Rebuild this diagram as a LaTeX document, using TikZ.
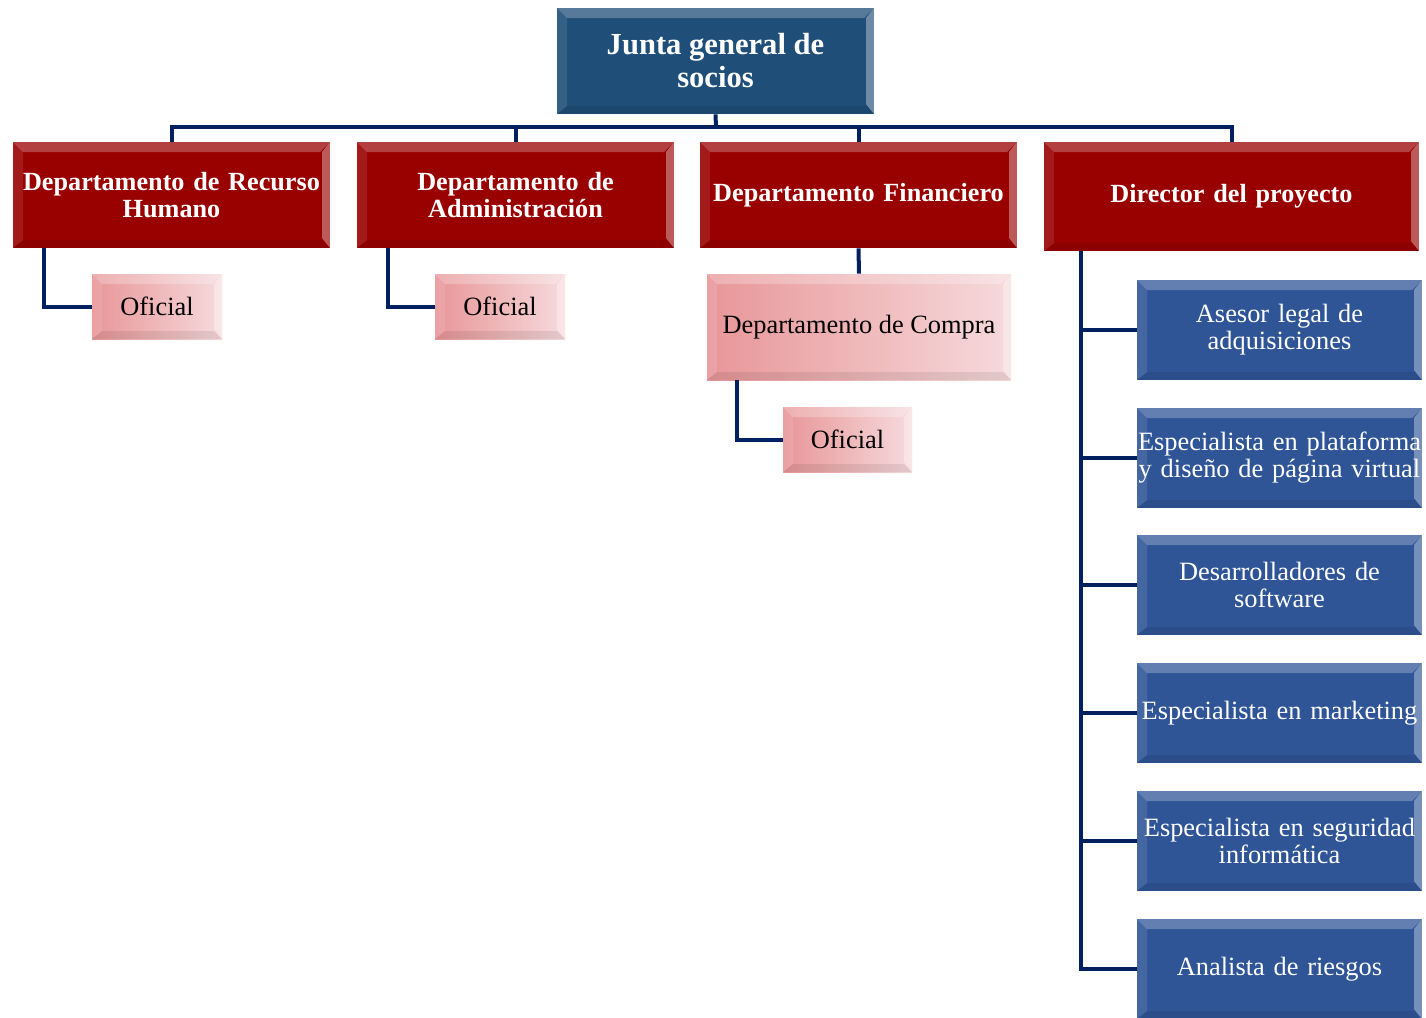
\documentclass[tikz,border=0pt]{standalone}
\usepackage{fontspec}
\setmainfont{Liberation Serif}
\usetikzlibrary{calc}

\definecolor{juntaazul}{RGB}{31,78,121}
\definecolor{deprojo}{RGB}{153,0,0}
\definecolor{cargoazul}{RGB}{47,85,151}
\definecolor{rosaA}{RGB}{232,150,152}
\definecolor{rosaB}{RGB}{246,218,220}
\definecolor{lineaazul}{RGB}{0,32,96}

\tikzset{
  bisel/.style={path picture={
    \fill[white,opacity=0.25] (path picture bounding box.north west) -- (path picture bounding box.north east)
      -- ([shift={(-5pt,-5pt)}]path picture bounding box.north east) -- ([shift={(5pt,-5pt)}]path picture bounding box.north west) -- cycle;
    \fill[white,opacity=0.35] (path picture bounding box.north east) -- (path picture bounding box.south east)
      -- ([shift={(-4pt,5pt)}]path picture bounding box.south east) -- ([shift={(-4pt,-5pt)}]path picture bounding box.north east) -- cycle;
    \fill[black,opacity=0.08] (path picture bounding box.south west) -- (path picture bounding box.south east)
      -- ([shift={(-4pt,4pt)}]path picture bounding box.south east) -- ([shift={(5pt,4pt)}]path picture bounding box.south west) -- cycle;
    \fill[white,opacity=0.1] (path picture bounding box.north west) -- (path picture bounding box.south west)
      -- ([shift={(5pt,4pt)}]path picture bounding box.south west) -- ([shift={(5pt,-5pt)}]path picture bounding box.north west) -- cycle;
  }},
  caja/.style={bisel, inner sep=0pt, align=center, text=white},
  junta/.style={caja, fill=juntaazul, minimum width=158.5pt, minimum height=53pt, font=\bfseries\fontsize{15.3}{16.5}\selectfont},
  depto/.style={caja, fill=deprojo, minimum width=158.5pt, minimum height=53pt, text width=158.5pt, font=\bfseries\fontsize{13.1}{13.5}\selectfont},
  cargo/.style={caja, fill=cargoazul, minimum width=142.5pt, minimum height=50pt, text width=142.5pt, font=\fontsize{13.2}{13.5}\selectfont},
  oficial/.style={bisel, inner sep=0pt, align=center, text=black, left color=rosaA, right color=rosaB, minimum height=32.5pt, font=\fontsize{13.2}{13.5}\selectfont},
  linea/.style={draw=lineaazul, line width=2pt}
}

\begin{document}
\begin{tikzpicture}[x=0.5pt,y=-0.5pt]
\useasboundingbox (0,0) rectangle (1426,1018);

% cabeza
\node[junta] (junta) at (715.5,61) {Junta general de\\socios};

% departamentos
\node[depto] (rrhh) at (171.5,195) {Departamento de Recurso\\Humano};
\node[depto] (admin) at (515.5,195) {Departamento de\\Administración};
\node[depto] (finan) at (858.5,195) {Departamento Financiero};
\node[depto, minimum width=187.5pt, text width=187.5pt, minimum height=54.5pt] (direc) at (1231.5,196.5) {Director del proyecto};

% oficiales
\node[oficial, minimum width=65pt] (of1) at (157,306.5) {Oficial};
\node[oficial, minimum width=65pt] (of2) at (500,306.5) {Oficial};
\node[oficial, minimum width=152pt, minimum height=53pt] (compra) at (859,327) {Departamento de Compra};
\node[oficial, minimum width=64.5pt] (of3) at (847.5,439.5) {Oficial};

% equipo del proyecto
\foreach \i/\y/\t in {1/330/{Asesor legal de\\adquisiciones},
                      2/458/{Especialista en plataforma\\y diseño de página virtual},
                      3/585/{Desarrolladores de\\software},
                      4/713/{Especialista en marketing},
                      5/841/{Especialista en seguridad\\informática},
                      6/969/{Analista de riesgos}} {
  \node[cargo] (cargo\i) at (1279.5,\y) {\t};
}

% conectores
\coordinate (barra) at (716,127);
\draw[linea] (junta.south) -- (barra);
\foreach \d in {rrhh,admin,finan,direc} {
  \draw[linea] (barra) -| (\d.north);
}
\draw[linea] ([xshift=15.5pt]rrhh.south west) |- (of1.west);
\draw[linea] ([xshift=15.5pt]admin.south west) |- (of2.west);
\draw[linea] (finan.south) -- (compra.north);
\draw[linea] ([xshift=15pt]compra.south west) |- (of3.west);
\foreach \i in {1,...,6} {
  \draw[linea] ([xshift=18.5pt]direc.south west) |- (cargo\i.west);
}
\end{tikzpicture}
\end{document}
